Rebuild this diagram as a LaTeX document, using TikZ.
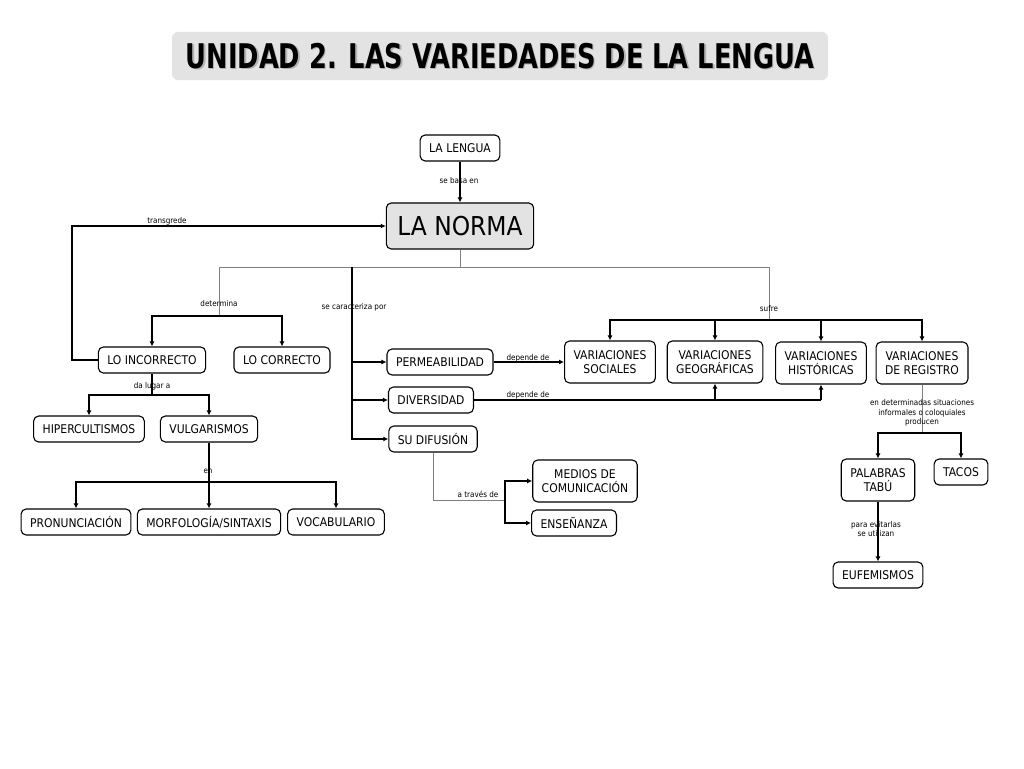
\documentclass[tikz,border=0pt]{standalone}
\usepackage{fontspec}
\setmainfont{DejaVu Sans Condensed}
\usetikzlibrary{arrows.meta}
\tikzset{
  box/.style={draw,rounded corners=5pt,fill=white,line width=1.1pt,align=center,
    inner xsep=9pt,minimum height=26pt,font=\fontsize{12}{13.5}\selectfont},
  lbl/.style={font=\fontsize{8}{9.5}\selectfont,align=center,inner sep=0pt},
  tline/.style={line width=1.7pt},
  gline/.style={line width=0.9pt,gray},
  titletext/.style={font=\fontsize{34}{36}\bfseries\selectfont}
}
\begin{document}
\begin{tikzpicture}[x=1pt,y=-1pt,>={Latex[length=5pt,width=5pt]}]
\useasboundingbox (0,0) rectangle (1024,768);
% titulo
\node[fill=gray!22,rounded corners=6pt,minimum width=656pt,minimum height=48pt] (titlebox) at (500,56){};
\node[titletext,text=gray!60] (titleshadow) at (501.3,57.3){\scalebox{0.84}[1]{UNIDAD 2. LAS VARIEDADES DE LA LENGUA}};
\node[titletext] (title) at (500,56){\scalebox{0.84}[1]{UNIDAD 2. LAS VARIEDADES DE LA LENGUA}};

% conceptos
\node[box] (lengua) at (460,148){LA LENGUA};
\node[box,fill=gray!22,font=\fontsize{26}{28}\selectfont,minimum height=46pt,inner xsep=11pt] (norma) at (460,226){LA NORMA};
\node[box] (incorrecto) at (152,360){LO INCORRECTO};
\node[box] (correcto) at (282,360){LO CORRECTO};
\node[box] (hiper) at (89,429){HIPERCULTISMOS};
\node[box] (vulgar) at (209,429){VULGARISMOS};
\node[box] (pron) at (76,522){PRONUNCIACIÓN};
\node[box] (morf) at (209,522){MORFOLOGÍA/SINTAXIS};
\node[box] (voc) at (336,522){VOCABULARIO};
\node[box] (permea) at (440,362){PERMEABILIDAD};
\node[box] (divers) at (431,400){DIVERSIDAD};
\node[box] (difus) at (433,439){SU DIFUSIÓN};
\node[box,minimum height=42pt] (medios) at (585,481){MEDIOS DE\\COMUNICACIÓN};
\node[box] (ensen) at (574,523){ENSEÑANZA};
\node[box,minimum height=42pt] (vsoc) at (610,362){VARIACIONES\\SOCIALES};
\node[box,minimum height=42pt] (vgeo) at (715,362){VARIACIONES\\GEOGRÁFICAS};
\node[box,minimum height=42pt] (vhis) at (821,363){VARIACIONES\\HISTÓRICAS};
\node[box,minimum height=42pt] (vreg) at (922,363){VARIACIONES\\DE REGISTRO};
\node[box,minimum height=42pt] (tabu) at (878,480){PALABRAS\\TABÚ};
\node[box] (tacos) at (961,472){TACOS};
\node[box] (eufem) at (878,575){EUFEMISMOS};

% puntos de union
\coordinate (nb) at (460,267);
\coordinate (hl) at (219,267);
\coordinate (hr) at (769,267);
\coordinate (cs) at (352,267);
\coordinate (dj) at (219,316);
\coordinate (sj) at (769,320);
\coordinate (ij) at (152,395);
\coordinate (vj) at (209,482);
\coordinate (rj) at (922,433);
\coordinate (dd) at (433,500);
\coordinate (dm) at (505,500);

% enlaces
\draw[tline,->] (lengua)--(norma);
\draw[tline,->] (incorrecto.west)--++(-26,0)|-(norma.west);
\draw[gline] (norma.south)--(nb);
\draw[gline] (hl)--(hr);
\draw[gline] (hl)--(dj);
\draw[tline,->] (dj)-|(incorrecto.north);
\draw[tline,->] (dj)-|(correcto.north);
\draw[tline,->] (cs)|-(permea.west);
\draw[tline,->] (cs)|-(divers.west);
\draw[tline,->] (cs)|-(difus.west);
\draw[gline] (hr)--(sj);
\draw[tline,->] (sj)-|(vsoc.north);
\draw[tline,->] (sj)-|(vgeo.north);
\draw[tline,->] (sj)-|(vhis.north);
\draw[tline,->] (sj)-|(vreg.north);
\draw[tline,->] (permea.east)--(vsoc.west);
\draw[tline] (divers.east)--(vhis.south|-divers.east);
\draw[tline,->] (vgeo.south|-divers.east)--(vgeo.south);
\draw[tline,->] (vhis.south|-divers.east)--(vhis.south);
\draw[gline] (vreg.south)--(rj);
\draw[tline,->] (rj)-|(tabu.north);
\draw[tline,->] (rj)-|(tacos.north);
\draw[tline,->] (tabu)--(eufem);
\draw[tline] (incorrecto.south)--(ij);
\draw[tline,->] (ij)-|(hiper.north);
\draw[tline,->] (ij)-|(vulgar.north);
\draw[tline] (vulgar.south)--(vj);
\draw[tline,->] (vj)-|(pron.north);
\draw[tline,->] (vj)-|(morf.north);
\draw[tline,->] (vj)-|(voc.north);
\draw[gline] (difus.south)--(dd)--(dm);
\draw[tline,->] (dm)|-(medios.west);
\draw[tline,->] (dm)|-(ensen.west);

% etiquetas
\node[lbl] (lbasa) at (459,181){se basa en};
\node[lbl] (ltrans) at (167,221){transgrede};
\node[lbl] (ldeterm) at (219,304){determina};
\node[lbl] (lcaract) at (354,307){se caracteriza por};
\node[lbl] (lsufre) at (769,309){sufre};
\node[lbl] (ldep1) at (528,358){depende de};
\node[lbl] (ldep2) at (528,395){depende de};
\node[lbl] (llugar) at (152,386){da lugar a};
\node[lbl] (len) at (208,471){en};
\node[lbl] (ltraves) at (478,494){a través de};
\node[lbl] (lsitua) at (922,413){en determinadas situaciones\\informales o coloquiales\\producen};
\node[lbl] (levitar) at (876,529){para evitarlas\\se utilizan};
\end{tikzpicture}
\end{document}
